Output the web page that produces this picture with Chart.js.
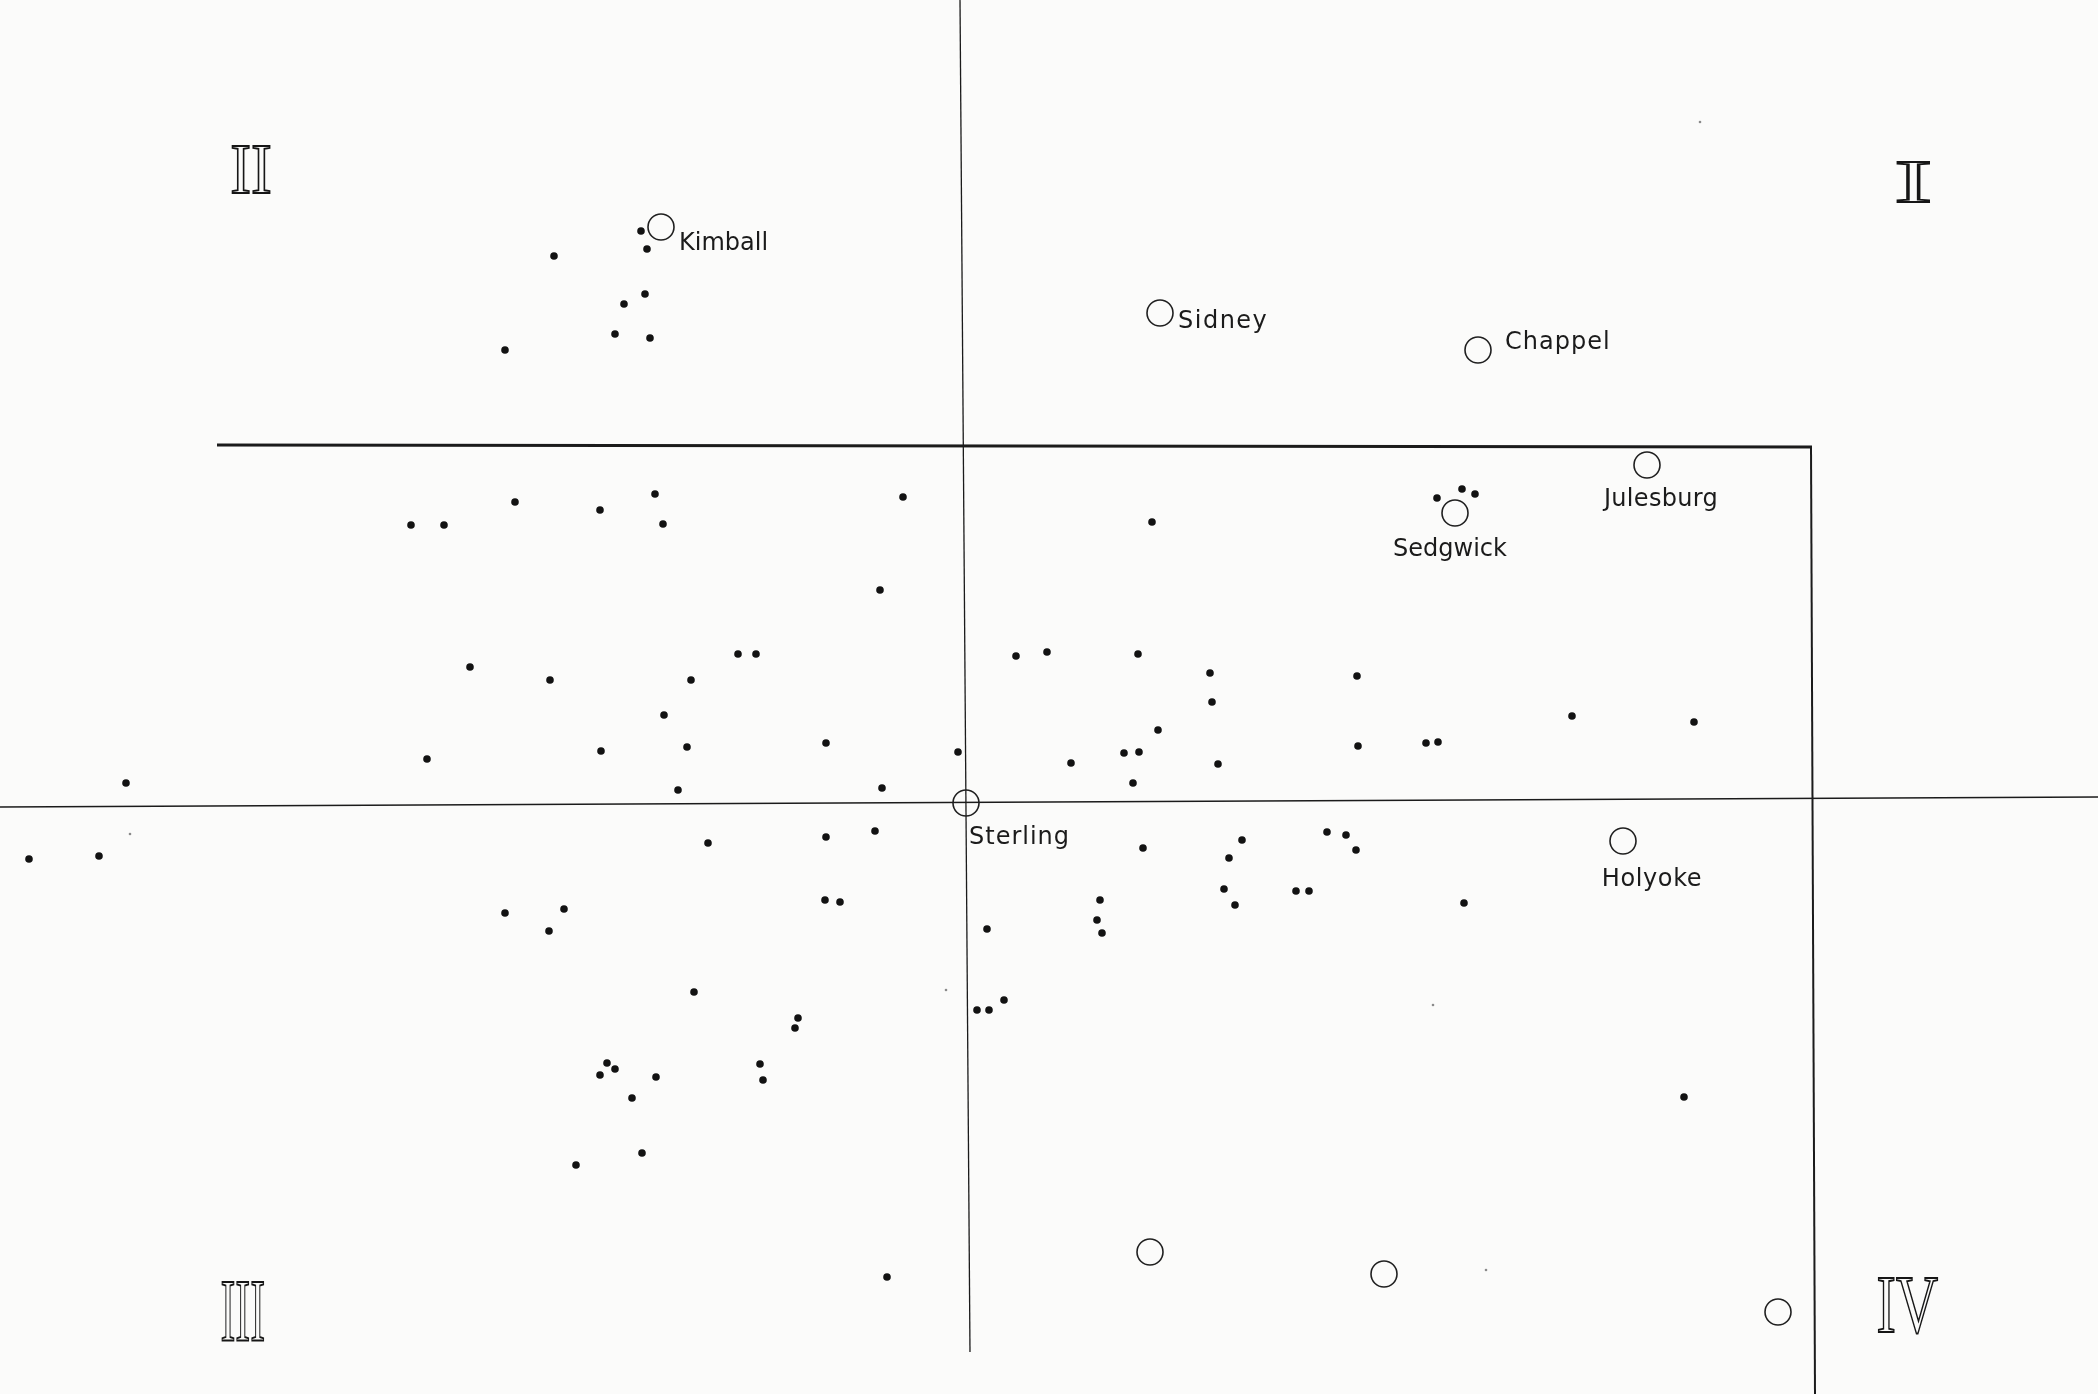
<!DOCTYPE html>
<html>
<head>
<meta charset="utf-8">
<script src="https://cdn.jsdelivr.net/npm/chart.js@4.4.1/dist/chart.umd.min.js"></script>
<style>
  html, body { margin: 0; padding: 0; background: #fbfbfa; }
  canvas { display: block; }
</style>
</head>
<body>
<canvas id="plot" width="2098" height="1394"></canvas>
<script>
// Plot frame: origin at Sterling, one unit = 10 px on the sheet
const X_RANGE = [-96.6, 113.2];
const Y_RANGE = [-59.1, 80.3];

// Small communities (solid dots)
const dotX = [
  -32.5, -31.9, -41.2, -32.1, -34.2, -35.1, -31.6, -46.1,
  -55.5, -52.2, -45.1, -36.6, -31.1, -30.3, -6.3, -8.6, -49.6, -41.6, -27.5, -22.8, -21.0,
  -30.2, -53.9, -36.5, -27.9, -14.0, -0.8, -28.8, -8.4, -84.0,
  18.6, 5.0, 8.1, 17.2, 24.4, 24.6, 39.1, 19.2, 10.5, 15.8, 17.3, 25.2, 39.2, 16.7,
  60.6, 72.8, 46.0, 47.2, 47.1, 49.6, 50.9,
  -93.7, -86.7, -25.8, -14.0, -9.1, -46.1, -40.2, -41.7, -14.1, -12.6, -27.2, -16.8,
  -17.1, -20.6, -20.3, -35.9, -35.1, -36.6, -31.0, -33.4, -32.4, -39.0, -7.9,
  17.7, 27.6, 26.3, 36.1, 38.0, 39.0, 25.8, 26.9, 33.0, 34.3, 13.4, 13.1, 13.6,
  2.1, 1.1, 2.3, 3.8, 49.8, 71.8
];
const dotY = [
  57.2, 55.4, 54.7, 50.9, 49.9, 46.9, 46.5, 45.3,
  27.8, 27.8, 30.1, 29.3, 30.9, 27.9, 30.6, 21.3, 13.6, 12.3, 12.3, 14.9, 14.9,
  8.8, 4.4, 5.2, 5.6, 6.0, 5.1, 1.3, 1.5, 2.0,
  28.1, 14.7, 15.1, 14.9, 13.0, 10.1, 12.7, 7.3, 4.0, 5.0, 5.1, 3.9, 5.7, 2.0,
  8.7, 8.1, 6.0, 6.1, 30.5, 31.4, 30.9,
  -5.6, -5.3, -4.0, -3.4, -2.8, -11.0, -10.6, -12.8, -9.7, -9.9, -18.9, -21.5,
  -22.5, -26.1, -27.7, -26.0, -26.6, -27.2, -27.4, -29.5, -35.0, -36.2, -47.4,
  -4.5, -3.7, -5.5, -2.9, -3.2, -4.7, -8.6, -10.2, -8.8, -8.8, -9.7, -11.7, -13.0,
  -12.6, -20.7, -20.7, -19.7, -10.0, -29.4
];

// Towns (open circles)
const townNames = ['Kimball', 'Sidney', 'Chappel', 'Julesburg', 'Sedgwick', 'Sterling', 'Holyoke', '', '', ''];
const townX = [-30.5, 19.4, 51.2, 68.1, 48.9, 0.0, 65.7, 18.4, 41.8, 81.2];
const townY = [57.6, 49.0, 45.3, 33.8, 29.0, 0.0, -3.8, -44.9, -47.1, -50.9];

// Quadrant numerals
const quadrantNames = ['I', 'II', 'III', 'IV'];
const quadrantX = [94.8, -71.5, -72.3, 94.2];
const quadrantY = [62.1, 63.4, -50.8, -50.2];

// Reference axes through Sterling, as drafted on the sheet
const hAxisX = [-96.6, 113.2];
const hAxisY = [-0.4, 0.6];
const vAxisX = [-0.6, 0.4];
const vAxisY = [80.3, -54.9];

// Boundary line: across the top, then down the right side
const limitTopX = [-74.9, 84.6];
const limitTopY = [35.8, 35.6];
const limitSideX = [84.5, 84.9];
const limitSideY = [35.6, -59.1];

// Faint marks on the sheet
const speckX = [73.4, 52.0, 46.7, -2.0, -83.6];
const speckY = [68.1, -46.7, -20.2, -18.7, -3.1];

// ---- styling (kept apart from the values) ----
const INK = '#1b1b1b';
const townLabelStyle = {
  Kimball:   { dx: 18, dy: 17, align: 'left',   spacing: 0 },
  Sidney:    { dx: 18, dy: 9,  align: 'left',   spacing: 1.5 },
  Chappel:   { dx: 27, dy: -7, align: 'left',   spacing: 1 },
  Julesburg: { dx: 14, dy: 35, align: 'center', spacing: 0.3 },
  Sedgwick:  { dx: -5, dy: 37, align: 'center', spacing: 0 },
  Sterling:  { dx: 3,  dy: 35, align: 'left',   spacing: 1 },
  Holyoke:   { dx: 29, dy: 39, align: 'center', spacing: 0.6 }
};
const quadrantBox = [
  { w: 32, h: 40 },
  { w: 38, h: 48 },
  { w: 42, h: 58 },
  { w: 60, h: 54 }
];

const zip = (xs, ys) => xs.map((x, i) => ({ x, y: ys[i] }));

const lineSet = (xs, ys, width) => ({
  type: 'line',
  data: zip(xs, ys),
  borderColor: INK,
  borderWidth: width,
  pointRadius: 0,
  fill: false,
  tension: 0,
  showLine: true
});

const annotate = {
  id: 'annotate',
  afterDatasetsDraw(chart) {
    const { ctx } = chart;
    const sx = chart.scales.x, sy = chart.scales.y;
    ctx.save();

    // town names
    ctx.fillStyle = INK;
    ctx.font = '24px "DejaVu Sans"';
    ctx.textBaseline = 'middle';
    townNames.forEach((name, i) => {
      if (!name) return;
      const st = townLabelStyle[name];
      ctx.textAlign = st.align;
      ctx.letterSpacing = st.spacing + 'px';
      ctx.fillText(name,
        sx.getPixelForValue(townX[i]) + st.dx,
        sy.getPixelForValue(townY[i]) + st.dy);
    });
    ctx.letterSpacing = '0px';

    // outlined roman numerals for the quadrants
    ctx.strokeStyle = '#161616';
    ctx.textAlign = 'left';
    ctx.textBaseline = 'alphabetic';
    quadrantNames.forEach((q, i) => {
      const box = quadrantBox[i];
      ctx.font = (box.h / 0.66).toFixed(1) + 'px "Liberation Serif"';
      const m = ctx.measureText(q);
      const ink = m.actualBoundingBoxLeft + m.actualBoundingBoxRight;
      const k = box.w / ink;
      const cx = sx.getPixelForValue(quadrantX[i]);
      const cy = sy.getPixelForValue(quadrantY[i]);
      ctx.save();
      ctx.translate(cx, cy + box.h / 2);
      ctx.scale(k, 1);
      ctx.lineWidth = 1.9;
      ctx.strokeText(q, -(m.actualBoundingBoxRight - m.actualBoundingBoxLeft) / 2, 0);
      ctx.restore();
    });

    ctx.restore();
  }
};

new Chart(document.getElementById('plot'), {
  type: 'scatter',
  data: {
    datasets: [
      {
        label: 'Towns',
        data: zip(townX, townY),
        pointRadius: 13,
        pointStyle: 'circle',
        backgroundColor: 'rgba(0,0,0,0)',
        borderColor: '#202020',
        borderWidth: 1.6
      },
      {
        label: 'Communities',
        data: zip(dotX, dotY),
        pointRadius: 3.8,
        backgroundColor: '#121212',
        borderWidth: 0
      },
      {
        label: 'Specks',
        data: zip(speckX, speckY),
        pointRadius: 1.3,
        backgroundColor: '#8a8a8a',
        borderWidth: 0
      },
      lineSet(hAxisX, hAxisY, 1.3),
      lineSet(vAxisX, vAxisY, 1.3),
      lineSet(limitTopX, limitTopY, 3),
      lineSet(limitSideX, limitSideY, 2)
    ]
  },
  options: {
    responsive: false,
    animation: false,
    devicePixelRatio: 1,
    layout: { padding: 0, autoPadding: false },
    clip: false,
    scales: {
      x: { type: 'linear', min: X_RANGE[0], max: X_RANGE[1], display: false },
      y: { type: 'linear', min: Y_RANGE[0], max: Y_RANGE[1], display: false }
    },
    plugins: {
      legend: { display: false },
      tooltip: { enabled: false }
    }
  },
  plugins: [annotate]
});
</script>
</body>
</html>
